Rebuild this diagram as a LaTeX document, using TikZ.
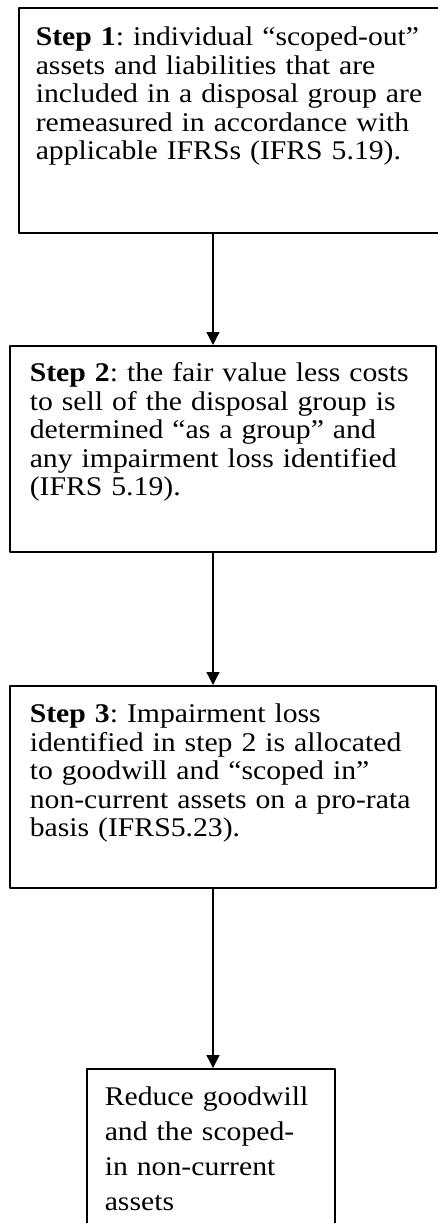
\documentclass[tikz,border=0pt]{standalone}
\usepackage{fontspec}
\setmainfont{Liberation Serif}[FakeStretch=1.1]
\frenchspacing
\usetikzlibrary{arrows.meta}
\tikzset{
	stepbox/.style={draw, line width=1.6pt, rectangle, anchor=north west, align=left,
		inner ysep=0pt, inner xsep=20pt, font=\fontsize{27}{28.5}\selectfont},
	flow/.style={-{Triangle[width=13pt,length=13pt]}, line width=1.3pt}
}
\begin{document}
\begin{tikzpicture}[x=1pt, y=-1pt, line join=round, line cap=round]
			\useasboundingbox (0,0) rectangle (438,1223);
			\coordinate (ax) at (213,0);
			\node[stepbox, inner xsep=17pt, text width=408pt, text height=38pt, text depth=187pt] (S1) at (18,7)
				{\textbf{Step 1}: individual “scoped-out”\\ assets and liabilities that are\\ included in a disposal group are\\ remeasured in accordance with\\ applicable IFRSs (IFRS 5.19).\par};
			\node[stepbox, text width=386pt, text height=36pt, text depth=170pt] (S2) at (9,345)
				{\textbf{Step 2}: the fair value less costs\\ to sell of the disposal group is\\ determined “as a group” and\\ any impairment loss identified\\ (IFRS 5.19).\par};
			\node[stepbox, text width=386pt, text height=37pt, text depth=165pt] (S3) at (9,685)
				{\textbf{Step 3}: Impairment loss\\ identified in step 2 is allocated\\ to goodwill and “scoped in”\\ non-current assets on a pro-rata\\ basis (IFRS5.23).\par};
			\node[stepbox, inner xsep=18pt, text width=212pt, text height=37pt, text depth=140pt,
				font=\fontsize{27}{35}\selectfont] (S4) at (86,1068)
				{Reduce goodwill\\ and the scoped-\\ in non-current\\ assets\par};
			\draw[flow] (S1.south -| ax) -- (S2.north -| ax);
			\draw[flow] (S2.south -| ax) -- (S3.north -| ax);
			\draw[flow] (S3.south -| ax) -- (S4.north -| ax);
		\end{tikzpicture}
\end{document}
